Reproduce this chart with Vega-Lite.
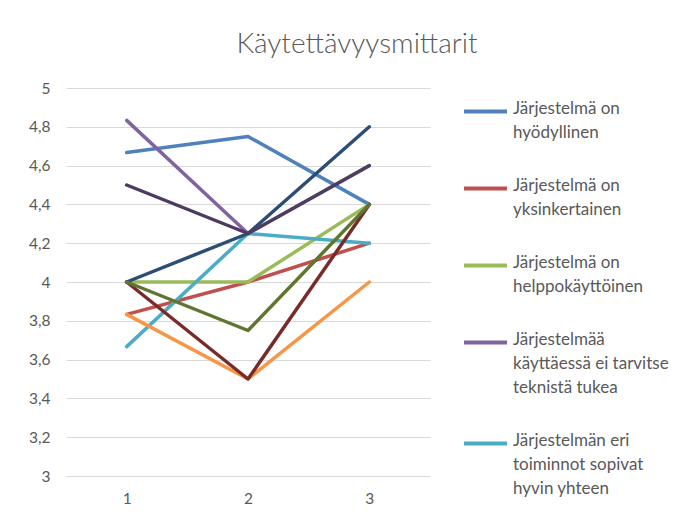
{
  "$schema": "https://vega.github.io/schema/vega-lite/v6.json",
  "width": 364,
  "height": 388,
  "autosize": "none",
  "padding": {"left": 66, "top": 88, "right": 259, "bottom": 44},
  "background": "white",
  "title": {
    "text": "Käytettävyysmittarit",
    "font": "Lato",
    "fontSize": 28,
    "fontWeight": 300,
    "color": "#595959",
    "anchor": "middle",
    "dx": 109,
    "offset": 22
  },
  "data": {
    "values": [
      {"sarja": "Järjestelmä on hyödyllinen", "kysely": "1", "arvo": 4.667},
      {"sarja": "Järjestelmä on hyödyllinen", "kysely": "2", "arvo": 4.75},
      {"sarja": "Järjestelmä on hyödyllinen", "kysely": "3", "arvo": 4.4},
      {"sarja": "Järjestelmä on yksinkertainen", "kysely": "1", "arvo": 3.833},
      {"sarja": "Järjestelmä on yksinkertainen", "kysely": "2", "arvo": 4.0},
      {"sarja": "Järjestelmä on yksinkertainen", "kysely": "3", "arvo": 4.2},
      {"sarja": "Järjestelmä on helppokäyttöinen", "kysely": "1", "arvo": 4.0},
      {"sarja": "Järjestelmä on helppokäyttöinen", "kysely": "2", "arvo": 4.0},
      {"sarja": "Järjestelmä on helppokäyttöinen", "kysely": "3", "arvo": 4.4},
      {"sarja": "Järjestelmää käyttäessä ei tarvitse teknistä tukea", "kysely": "1", "arvo": 4.833},
      {"sarja": "Järjestelmää käyttäessä ei tarvitse teknistä tukea", "kysely": "2", "arvo": 4.25},
      {"sarja": "Järjestelmän eri toiminnot sopivat hyvin yhteen", "kysely": "1", "arvo": 3.667},
      {"sarja": "Järjestelmän eri toiminnot sopivat hyvin yhteen", "kysely": "2", "arvo": 4.25},
      {"sarja": "Järjestelmän eri toiminnot sopivat hyvin yhteen", "kysely": "3", "arvo": 4.2},
      {"sarja": "Sarja 6", "kysely": "1", "arvo": 3.833},
      {"sarja": "Sarja 6", "kysely": "2", "arvo": 3.5},
      {"sarja": "Sarja 6", "kysely": "3", "arvo": 4.0},
      {"sarja": "Sarja 7", "kysely": "1", "arvo": 4.0},
      {"sarja": "Sarja 7", "kysely": "2", "arvo": 4.25},
      {"sarja": "Sarja 7", "kysely": "3", "arvo": 4.8},
      {"sarja": "Sarja 8", "kysely": "1", "arvo": 4.0},
      {"sarja": "Sarja 8", "kysely": "2", "arvo": 3.5},
      {"sarja": "Sarja 8", "kysely": "3", "arvo": 4.4},
      {"sarja": "Sarja 9", "kysely": "1", "arvo": 4.0},
      {"sarja": "Sarja 9", "kysely": "2", "arvo": 3.75},
      {"sarja": "Sarja 9", "kysely": "3", "arvo": 4.4},
      {"sarja": "Sarja 10", "kysely": "1", "arvo": 4.5},
      {"sarja": "Sarja 10", "kysely": "2", "arvo": 4.25},
      {"sarja": "Sarja 10", "kysely": "3", "arvo": 4.6}
    ]
  },
  "mark": {"type": "line", "strokeWidth": 3.5, "strokeJoin": "round", "strokeCap": "round"},
  "encoding": {
    "x": {
      "field": "kysely",
      "type": "ordinal",
      "scale": {"type": "point", "padding": 0.5},
      "axis": {
        "title": null,
        "labelAngle": 0,
        "ticks": false,
        "domain": false,
        "grid": false,
        "labelPadding": 15,
        "labelFont": "Lato",
        "labelFontSize": 15.5,
        "labelColor": "#595959"
      }
    },
    "y": {
      "field": "arvo",
      "type": "quantitative",
      "scale": {"domain": [3, 5], "nice": false, "zero": false},
      "axis": {
        "title": null,
        "values": [3, 3.2, 3.4, 3.6, 3.8, 4, 4.2, 4.4, 4.6, 4.8, 5],
        "labelExpr": "replace(format(datum.value, '~g'), '.', ',')",
        "ticks": false,
        "domain": false,
        "labelPadding": 16,
        "labelFont": "Lato",
        "labelFontSize": 15.5,
        "labelColor": "#595959",
        "gridColor": "#D9D9D9",
        "gridWidth": 1
      }
    },
    "color": {
      "field": "sarja",
      "type": "nominal",
      "sort": null,
      "scale": {
        "domain": [
          "Järjestelmä on hyödyllinen",
          "Järjestelmä on yksinkertainen",
          "Järjestelmä on helppokäyttöinen",
          "Järjestelmää käyttäessä ei tarvitse teknistä tukea",
          "Järjestelmän eri toiminnot sopivat hyvin yhteen",
          "Sarja 6",
          "Sarja 7",
          "Sarja 8",
          "Sarja 9",
          "Sarja 10"
        ],
        "range": ["#4F81BD", "#C0504D", "#9BBB59", "#8064A2", "#4BACC6", "#F79646", "#2C4D75", "#772C2A", "#5F7530", "#4D3B62"]
      },
      "legend": {
        "title": null,
        "orient": "right",
        "offset": 32,
        "values": [
          "Järjestelmä on hyödyllinen",
          "Järjestelmä on yksinkertainen",
          "Järjestelmä on helppokäyttöinen",
          "Järjestelmää käyttäessä ei tarvitse teknistä tukea",
          "Järjestelmän eri toiminnot sopivat hyvin yhteen"
        ],
        "symbolType": "stroke",
        "symbolSize": 1849,
        "symbolStrokeWidth": 3.8,
        "labelFont": "Lato",
        "labelFontSize": 17,
        "labelColor": "#595959",
        "labelLimit": 220,
        "labelOffset": 4,
        "labelBaseline": "top",
        "rowPadding": 24,
        "labelExpr": "datum.label == 'Järjestelmä on hyödyllinen' ? ['Järjestelmä on', 'hyödyllinen'] : datum.label == 'Järjestelmä on yksinkertainen' ? ['Järjestelmä on', 'yksinkertainen'] : datum.label == 'Järjestelmä on helppokäyttöinen' ? ['Järjestelmä on', 'helppokäyttöinen'] : datum.label == 'Järjestelmää käyttäessä ei tarvitse teknistä tukea' ? ['Järjestelmää', 'käyttäessä ei tarvitse', 'teknistä tukea'] : ['Järjestelmän eri', 'toiminnot sopivat', 'hyvin yhteen']",
        "encode": {
          "labels": {"update": {"lineHeight": {"value": 24}, "dy": {"value": -11}}}
        }
      }
    }
  },
  "config": {"view": {"stroke": null}}
}
